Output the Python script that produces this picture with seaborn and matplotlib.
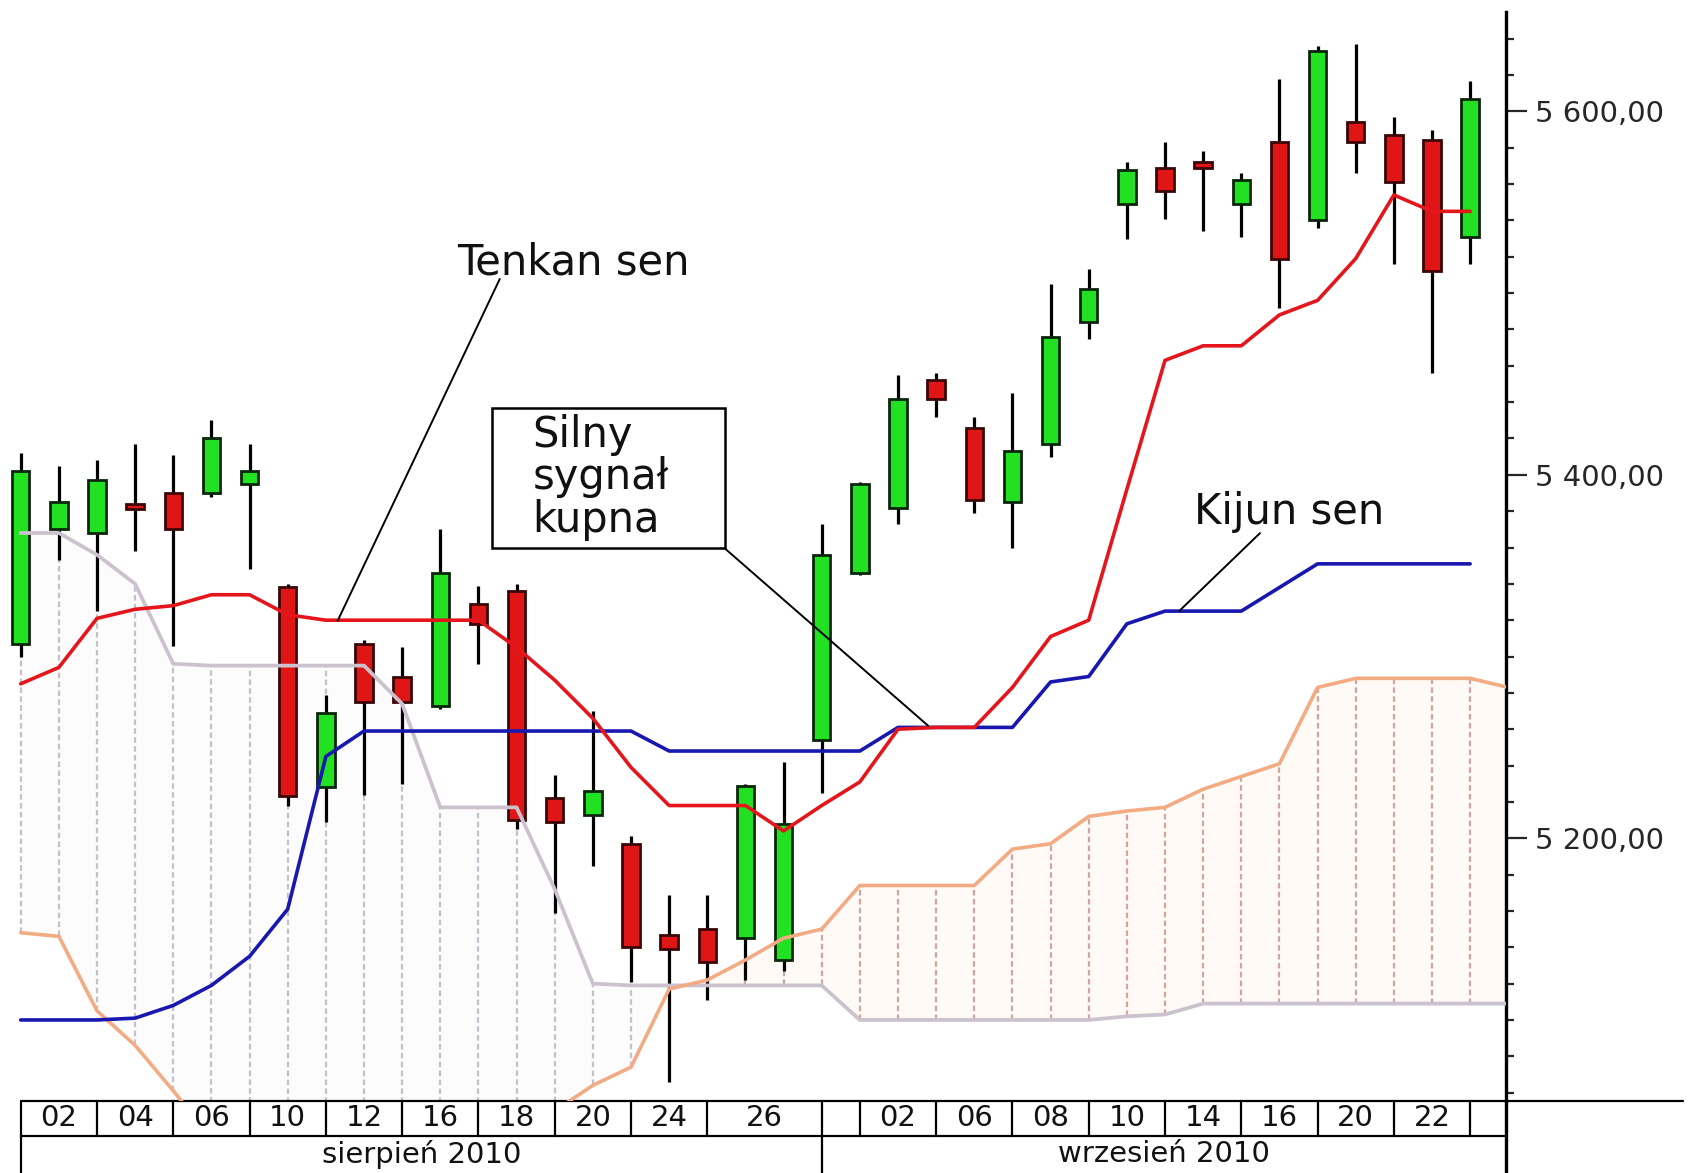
import numpy as np
import seaborn as sns
import matplotlib.pyplot as plt
import matplotlib.transforms as mtransforms
from matplotlib.patches import Rectangle
from matplotlib.ticker import MultipleLocator, FuncFormatter

# daily candles, WIG20-like index, Aug-Sep 2010 (x = session number)
opens = [5307, 5370, 5368, 5384, 5390, 5390, 5395, 5338, 5228, 5307,
         5289, 5273, 5329, 5336, 5222, 5213, 5197, 5147, 5150, 5145,
         5133, 5254, 5346, 5382, 5452, 5426, 5385, 5417, 5484, 5549,
         5569, 5572, 5549, 5583, 5540, 5594, 5587, 5584, 5531]
highs = [5412, 5405, 5408, 5417, 5411, 5430, 5417, 5340, 5279, 5309,
         5305, 5370, 5339, 5340, 5235, 5270, 5201, 5169, 5169, 5230,
         5242, 5373, 5396, 5455, 5456, 5432, 5445, 5505, 5513, 5572,
         5583, 5578, 5566, 5618, 5636, 5637, 5597, 5590, 5617]
lows = [5300, 5353, 5325, 5358, 5306, 5388, 5348, 5218, 5209, 5224,
        5230, 5271, 5296, 5205, 5159, 5185, 5121, 5066, 5111, 5122,
        5127, 5225, 5345, 5373, 5432, 5379, 5360, 5410, 5475, 5530,
        5541, 5534, 5531, 5492, 5536, 5566, 5516, 5456, 5516]
closes = [5402, 5385, 5397, 5381, 5370, 5420, 5402, 5223, 5269, 5275,
          5275, 5346, 5318, 5210, 5209, 5226, 5140, 5139, 5132, 5229,
          5208, 5356, 5395, 5442, 5442, 5386, 5413, 5476, 5502, 5568,
          5556, 5569, 5562, 5519, 5633, 5583, 5561, 5512, 5607]

tenkan = [5285, 5294, 5321, 5326, 5328, 5334, 5334, 5323, 5320, 5320,
          5320, 5320, 5320, 5305, 5287, 5266, 5239, 5218, 5218, 5218,
          5204, 5218, 5231, 5260, 5261, 5261, 5283, 5311, 5320, 5392,
          5463, 5471, 5471, 5488, 5496, 5519, 5554, 5545, 5545]
kijun = [5100, 5100, 5100, 5101, 5108, 5119, 5135, 5161, 5245, 5259,
         5259, 5259, 5259, 5259, 5259, 5259, 5259, 5248, 5248, 5248,
         5248, 5248, 5248, 5261, 5261, 5261, 5261, 5286, 5289, 5318,
         5325, 5325, 5325, 5338, 5351, 5351, 5351, 5351, 5351]
senkou_a = [5148, 5146, 5105, 5086, 5061, 5035, 5020, 5010, 5005, 5000,
            5000, 5005, 5015, 5030, 5050, 5064, 5074, 5117, 5122, 5133,
            5145, 5150, 5174, 5174, 5174, 5174, 5194, 5197, 5212, 5215,
            5217, 5227, 5234, 5241, 5283, 5288, 5288, 5288, 5288, 5283]
senkou_b = [5368, 5368, 5356, 5340, 5296, 5295, 5295, 5295, 5295, 5295,
            5274, 5217, 5217, 5217, 5172, 5120, 5119, 5119, 5119, 5119,
            5119, 5119, 5100, 5100, 5100, 5100, 5100, 5100, 5100, 5102,
            5103, 5109, 5109, 5109, 5109, 5109, 5109, 5109, 5109, 5109]

# date table under the chart
day_edges = [0, 2, 4, 6, 8, 10, 12, 14, 16, 18, 21, 22, 24, 26, 28, 30, 32, 34, 36, 38]
day_labels = ['02', '04', '06', '10', '12', '16', '18', '20', '24', '26', '',
              '02', '06', '08', '10', '14', '16', '20', '22']
month_edges = [0, 21]
month_labels = ['sierpień 2010', 'wrzesień 2010']

sns.set_style("white")
plt.rcParams['font.family'] = ['DejaVu Sans']

W, H = 1696, 1173
fig = plt.figure(figsize=(W / 100, H / 100), dpi=100)
ax_left, ax_right, ax_top, ax_bot = 0, 1506, 12, 1101
ax = fig.add_axes([ax_left / W, 1 - ax_bot / H, (ax_right - ax_left) / W, (ax_bot - ax_top) / H])

xmin, xmax = -0.543, 38.94
ax.set_xlim(xmin, xmax)
ax.set_ylim(5055.4, 5654.7)

idx = np.arange(len(closes))
sidx = np.arange(len(senkou_a))
a = np.array(senkou_a)
b = np.array(senkou_b)

# cloud (kumo): very faint fill + dashed vertical hatching
ax.fill_between(sidx, a, b, where=a >= b, interpolate=True, color='#fffaf5', lw=0, zorder=0)
ax.fill_between(sidx, a, b, where=a < b, interpolate=True, color='#fcfcfd', lw=0, zorder=0)
hx = sidx[:-1]
hcol = np.where(a[:-1] >= b[:-1], '#cfa79c', '#c4c0cc')
ax.vlines(hx, np.minimum(a, b)[:-1], np.maximum(a, b)[:-1], colors=hcol,
          linestyles=(0, (2.5, 1.5)), lw=1.6, zorder=1)

# candles
o = np.array(opens)
c = np.array(closes)
up = c >= o
ax.vlines(idx, lows, highs, color='black', lw=2.3, zorder=3)
ax.bar(idx, np.abs(c - o), bottom=np.minimum(o, c), width=0.46,
       color=np.where(up, '#22e022', '#e01515'),
       edgecolor=np.where(up, '#0b260b', '#3a0606'), linewidth=2.0, zorder=4)

# ichimoku lines
sns.lineplot(x=sidx, y=senkou_b, color='#cbc2cd', lw=2.7, ax=ax, zorder=5)
sns.lineplot(x=sidx, y=senkou_a, color='#f2ab82', lw=2.6, ax=ax, zorder=5)
sns.lineplot(x=idx, y=kijun, color='#1818b0', lw=2.6, ax=ax, zorder=6)
sns.lineplot(x=idx, y=tenkan, color='#e4161c', lw=2.6, ax=ax, zorder=7)

# annotations
ax.text(14.48, 5517, 'Tenkan sen', fontsize=30, ha='center', va='center', color='#111111')
ax.plot([12.56, 8.31], [5507.8, 5319.7], color='black', lw=1.4, zorder=8)

ax.add_patch(Rectangle((12.36, 5359.5), 18.46 - 12.36, 5436.9 - 5359.5,
                       fill=True, facecolor='white', edgecolor='black', lw=1.8, zorder=8))
for yy, word in zip([5422, 5398.8, 5375], ['Silny', 'sygnał', 'kupna']):
    ax.text(13.41, yy, word, fontsize=30, ha='left', va='center', color='#111111', zorder=9)
ax.plot([18.46, 23.79], [5359.5, 5261.9], color='black', lw=1.4, zorder=8)

ax.text(33.26, 5379.8, 'Kijun sen', fontsize=30, ha='center', va='center', color='#111111')
ax.plot([32.49, 30.37], [5367.9, 5325], color='black', lw=1.4, zorder=8)

# right price axis
ax.yaxis.tick_right()
ax.set_yticks([5200, 5400, 5600])
ax.yaxis.set_minor_locator(MultipleLocator(20))
ax.yaxis.set_major_formatter(FuncFormatter(lambda v, p: f"{int(v) // 1000} {int(v) % 1000:03d},00"))
ax.tick_params(axis='y', which='major', length=15, width=1.6, direction='out', labelsize=21, pad=6)
ax.tick_params(axis='y', which='minor', length=6, width=1.6, direction='out')
ax.set_xticks([])
for s in ['top', 'left', 'bottom']:
    ax.spines[s].set_visible(False)
ax.spines['right'].set_linewidth(2.4)
ax.spines['right'].set_color('black')

# date table
trans = mtransforms.blended_transform_factory(ax.transData, ax.transAxes)
axh = ax_bot - ax_top
r1 = -35 / axh
r2 = -(H - ax_bot) / axh
x_far = xmax + (1683 - ax_right) / 38.14
kw = dict(transform=trans, clip_on=False, color='black')
ax.plot([0, x_far], [0, 0], lw=1.6, **kw)
ax.plot([0, xmax], [r1, r1], lw=1.6, **kw)
ax.plot([xmax, xmax], [0, r2], lw=2.4, **kw)
for e in day_edges:
    ax.plot([e, e], [0, r1], lw=1.6, **kw)
for i, lab in enumerate(day_labels):
    ax.text((day_edges[i] + day_edges[i + 1]) / 2, r1 / 2, lab, transform=trans,
            ha='center', va='center', fontsize=21, color='#111111')
for e in month_edges:
    ax.plot([e, e], [r1, r2], lw=1.6, **kw)
m_bounds = month_edges + [xmax]
for i, lab in enumerate(month_labels):
    ax.text((m_bounds[i] + m_bounds[i + 1]) / 2, (r1 + r2) / 2, lab, transform=trans,
            ha='center', va='center', fontsize=21, color='#111111')

fig.savefig('out.png', dpi=100)
